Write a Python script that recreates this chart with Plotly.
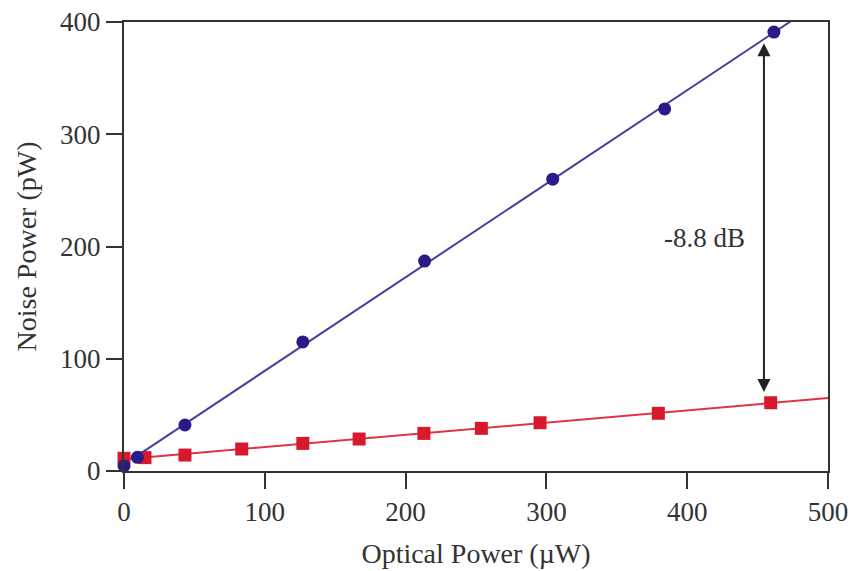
import numpy as np
import plotly.graph_objects as go

# Data
blue_x = [0, 9.5, 43.3, 127, 213.5, 304.5, 384, 461.6]
blue_y = [4.5, 12.2, 41, 115, 187, 260, 322.6, 391]
red_x = [0, 14.9, 43.3, 83.6, 127, 167, 213, 253.8, 295.5, 379.5, 459.3]
red_y = [11.3, 11.9, 14.2, 19.6, 24.6, 28.5, 33.5, 38, 43, 51.4, 60.8]
x_ticks = [0, 100, 200, 300, 400, 500]
y_ticks = [0, 100, 200, 300, 400]
arrow_x = 454.5
arrow_top = 381
arrow_bottom = 69
label_text = "-8.8 dB"

FONT = "Liberation Serif, Times New Roman, serif"
BLUE_M = "#2c1a88"
BLUE_L = "#4a3d9f"
RED_M = "#d8192b"
RED_L = "#e23343"
AX = "#333333"

bb = np.polyfit(blue_x, blue_y, 1)
rb = np.polyfit(red_x, red_y, 1)
bx_line = np.array([blue_x[1], 500])
rx_line = np.array([0, 500])

fig = go.Figure()
fig.add_trace(go.Scatter(x=rx_line, y=np.polyval(rb, rx_line), mode="lines",
                         line=dict(color=RED_L, width=2), showlegend=False, hoverinfo="skip"))
fig.add_trace(go.Scatter(x=red_x, y=red_y, mode="markers", cliponaxis=False,
                         marker=dict(symbol="square", size=13, color=RED_M), showlegend=False))
fig.add_trace(go.Scatter(x=bx_line, y=np.polyval(bb, bx_line), mode="lines",
                         line=dict(color=BLUE_L, width=2), showlegend=False, hoverinfo="skip"))
fig.add_trace(go.Scatter(x=blue_x, y=blue_y, mode="markers", cliponaxis=False,
                         marker=dict(symbol="circle", size=13, color=BLUE_M), showlegend=False))

# double-headed arrow
fig.add_annotation(x=arrow_x, y=arrow_top, ax=arrow_x, ay=arrow_bottom,
                   xref="x", yref="y", axref="x", ayref="y", text="",
                   showarrow=True, arrowhead=2, startarrowhead=2, arrowside="end+start",
                   arrowsize=1.3, startarrowsize=1.3, arrowwidth=2, arrowcolor="#222222")
fig.add_annotation(x=arrow_x - 12, y=208, xref="x", yref="y", text=label_text,
                   showarrow=False, xanchor="right", yanchor="middle",
                   font=dict(family=FONT, size=27, color=AX))

axis_common = dict(showgrid=False, zeroline=False, showline=True, linecolor=AX, linewidth=2,
                   mirror=True, ticks="outside", ticklen=16, tickwidth=2, tickcolor=AX,
                   automargin=False, ticklabeloverflow="allow",
                   tickfont=dict(family=FONT, size=27, color=AX))

fig.update_xaxes(range=[0, 500], tickvals=x_ticks,
                 title=dict(text="Optical Power (\u00b5W)", font=dict(family=FONT, size=28, color=AX), standoff=17),
                 **axis_common)
fig.update_yaxes(range=[0, 400], tickvals=y_ticks,
                 title=dict(text="Noise Power (pW)", font=dict(family=FONT, size=28, color=AX), standoff=15),
                 **axis_common)

fig.update_layout(width=854, height=571, margin=dict(l=124, r=26, t=22, b=100),
                  plot_bgcolor="white", paper_bgcolor="white")

fig.write_html("out.html", config={"displayModeBar": False},
               post_script="document.body.style.margin='0px';document.body.style.overflow='hidden';")
